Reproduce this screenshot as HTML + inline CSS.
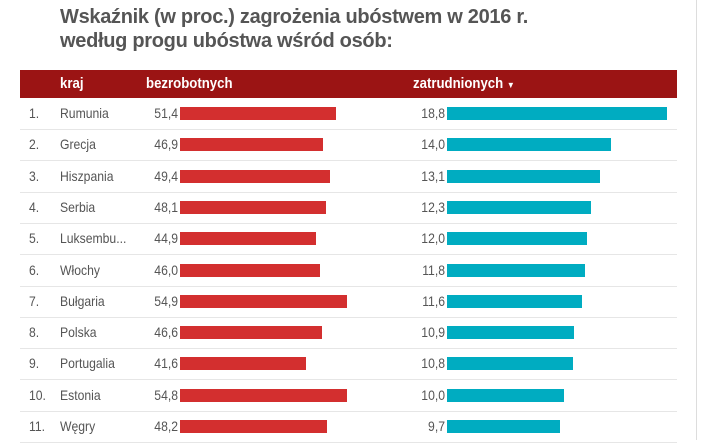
<!DOCTYPE html>
<html><head><meta charset="utf-8"><style>
body{margin:0;width:710px;height:440px;background:#fff;overflow:hidden;position:relative;font-family:"Liberation Sans",sans-serif;color:#555}
.t{position:absolute;left:60px;font-weight:bold;font-size:20px;color:#555;letter-spacing:-0.3px}
.hd{position:absolute;left:20px;top:70px;width:657px;height:28px;background:#9b1414}
.hd span{position:absolute;top:5px;color:#fff;font-weight:bold;font-size:15px;transform:scaleX(0.88);transform-origin:left}
.r{position:absolute;left:20px;width:657px;height:31px;border-bottom:1px solid #e6e6e6}
.r span{position:absolute;top:7px;font-size:14px;transform:scaleX(0.87);transform-origin:left}
.r span.v{text-align:right;width:46px;transform-origin:right}
.b{position:absolute;top:9px;height:13px}
.vl{position:absolute;left:696px;top:0;width:1px;height:440px;background:#ddd}
</style></head><body>
<div class="t" style="top:6px">Wskaźnik (w proc.) zagrożenia ubóstwem w 2016 r.</div>
<div class="t" style="top:30px">według progu ubóstwa wśród osób:</div>
<div class="vl"></div>
<div class="hd"><span style="left:40px">kraj</span><span style="left:126px">bezrobotnych</span><span style="left:393px">zatrudnionych <small style="font-size:9px">▼</small></span></div>
<div id="rows"></div>
<script>
var d=[["Rumunia",51.4,18.8],["Grecja",46.9,14.0],["Hiszpania",49.4,13.1],["Serbia",48.1,12.3],["Luksembu...",44.9,12.0],["Włochy",46.0,11.8],["Bułgaria",54.9,11.6],["Polska",46.6,10.9],["Portugalia",41.6,10.8],["Estonia",54.8,10.0],["Węgry",48.2,9.7]];
var h="";d.forEach(function(r,i){var f=function(x){return x.toFixed(1).replace(".",",")};
h+='<div class="r" style="top:'+(98+i*31.3)+'px"><span style="left:9px">'+(i+1)+'.</span><span style="left:40px">'+r[0]+'</span><span class="v" style="left:112px">'+f(r[1])+'</span><div class="b" style="left:160px;width:'+(r[1]*3.04)+'px;background:#d32f2f"></div><span class="v" style="left:379px">'+f(r[2])+'</span><div class="b" style="left:427px;width:'+(r[2]*11.68)+'px;background:#00acc1"></div></div>';});
document.getElementById("rows").innerHTML=h;
</script>
</body></html>
